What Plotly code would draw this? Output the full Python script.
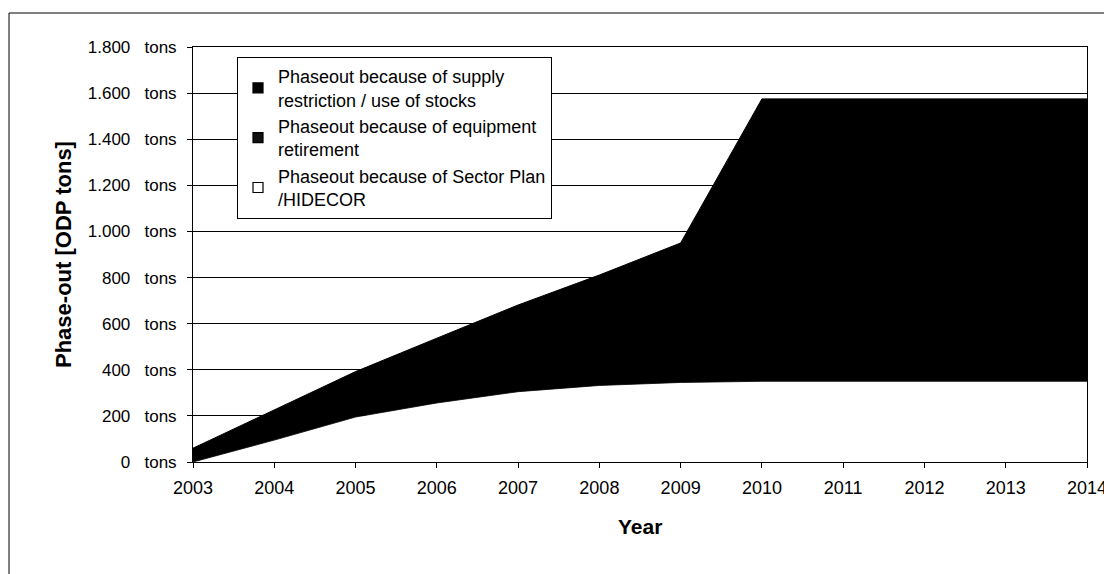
import plotly.graph_objects as go

years = [2003, 2004, 2005, 2006, 2007, 2008, 2009, 2010, 2011, 2012, 2013, 2014]
sector_plan = [0, 95, 195, 256, 305, 332, 345, 350, 350, 350, 350, 350]
equipment_retirement = [30, 60, 100, 140, 180, 220, 260, 300, 300, 300, 300, 300]
total = [60, 225, 392, 537, 681, 811, 950, 1575, 1575, 1575, 1575, 1575]
supply_restriction = [t - s - e for t, s, e in zip(total, sector_plan, equipment_retirement)]

y_ticks = [0, 200, 400, 600, 800, 1000, 1200, 1400, 1600, 1800]
SP = "\u00a0\u00a0\u00a0"
y_labels = ["0" + SP + "tons", "200" + SP + "tons", "400" + SP + "tons", "600" + SP + "tons",
            "800" + SP + "tons", "1.000" + SP + "tons", "1.200" + SP + "tons",
            "1.400" + SP + "tons", "1.600" + SP + "tons", "1.800" + SP + "tons"]

names = ["Phaseout because of supply<br>restriction / use of stocks",
         "Phaseout because of equipment<br>retirement",
         "Phaseout because of Sector Plan<br>/HIDECOR"]

FONT = "Liberation Sans, Arial, sans-serif"

fig = go.Figure()
# stacked areas (bottom first)
fig.add_trace(go.Scatter(x=years, y=sector_plan, stackgroup="one", mode="lines",
                         line=dict(color="black", width=0.8), fillcolor="white",
                         showlegend=False, name=names[2]))
fig.add_trace(go.Scatter(x=years, y=equipment_retirement, stackgroup="one", mode="lines",
                         line=dict(color="black", width=2.5),
                         fillcolor="#000000", showlegend=False, name=names[1]))
fig.add_trace(go.Scatter(x=years, y=supply_restriction, stackgroup="one", mode="lines",
                         line=dict(color="black", width=1),
                         fillcolor="#000000", showlegend=False, name=names[0]))

# legend entries with square swatches
legend_colors = ["#000000", "#111111", "#ffffff"]
for nm, col in zip(names, legend_colors):
    fig.add_trace(go.Scatter(x=[None], y=[None], mode="markers", name=nm,
                             marker=dict(symbol="square", size=10, color=col,
                                         line=dict(color="black", width=1.2))))

W, H = 1104, 574
L, R, T, B = 193, 17, 47, 112
pw, ph = W - L - R, H - T - B

def px(x):
    return (x - L) / pw

def py(y):
    return (H - B - y) / ph

fig.update_layout(
    width=W, height=H,
    margin=dict(l=L, r=R, t=T, b=B, autoexpand=False),
    paper_bgcolor="white", plot_bgcolor="white",
    font=dict(family=FONT, size=17, color="black"),
    showlegend=True,
    hovermode=False,
    legend=dict(x=px(237), y=py(57), xanchor="left", yanchor="top",
                bordercolor="black", borderwidth=1, bgcolor="white",
                traceorder="normal", font=dict(size=18, family=FONT),
                itemwidth=30),
    xaxis=dict(range=[2003, 2014], tickvals=years, ticktext=[str(y) for y in years],
               ticks="outside", ticklen=5, tickcolor="black", showgrid=False,
               showline=True, linecolor="black", linewidth=1, mirror=True,
               zeroline=False, tickfont=dict(size=18), ticklabelstandoff=4,
               ticklabeloverflow="allow"),
    yaxis=dict(range=[0, 1800], tickvals=y_ticks, ticktext=y_labels,
               ticks="outside", ticklen=5, tickcolor="black",
               showgrid=True, gridcolor="black", gridwidth=1,
               showline=True, linecolor="black", linewidth=1, mirror=True,
               zeroline=False, tickfont=dict(size=17), ticklabelstandoff=7),
    annotations=[
        dict(text="<b>Phase-out [ODP tons]</b>", textangle=-90, xref="paper", yref="paper",
             x=px(64), y=py(255), showarrow=False, font=dict(size=22, family=FONT),
             xanchor="center", yanchor="middle"),
        dict(text="<b>Year</b>", xref="paper", yref="paper",
             x=px(640), y=py(526), showarrow=False, font=dict(size=21, family=FONT),
             xanchor="center", yanchor="middle"),
    ],
    shapes=[
        dict(type="line", xref="paper", yref="paper", x0=px(9), x1=px(1104), y0=py(13), y1=py(13),
             line=dict(color="black", width=1)),
        dict(type="line", xref="paper", yref="paper", x0=px(9), x1=px(9), y0=py(13), y1=py(574),
             line=dict(color="black", width=1)),
    ],
)

fig.write_html("out.html")
